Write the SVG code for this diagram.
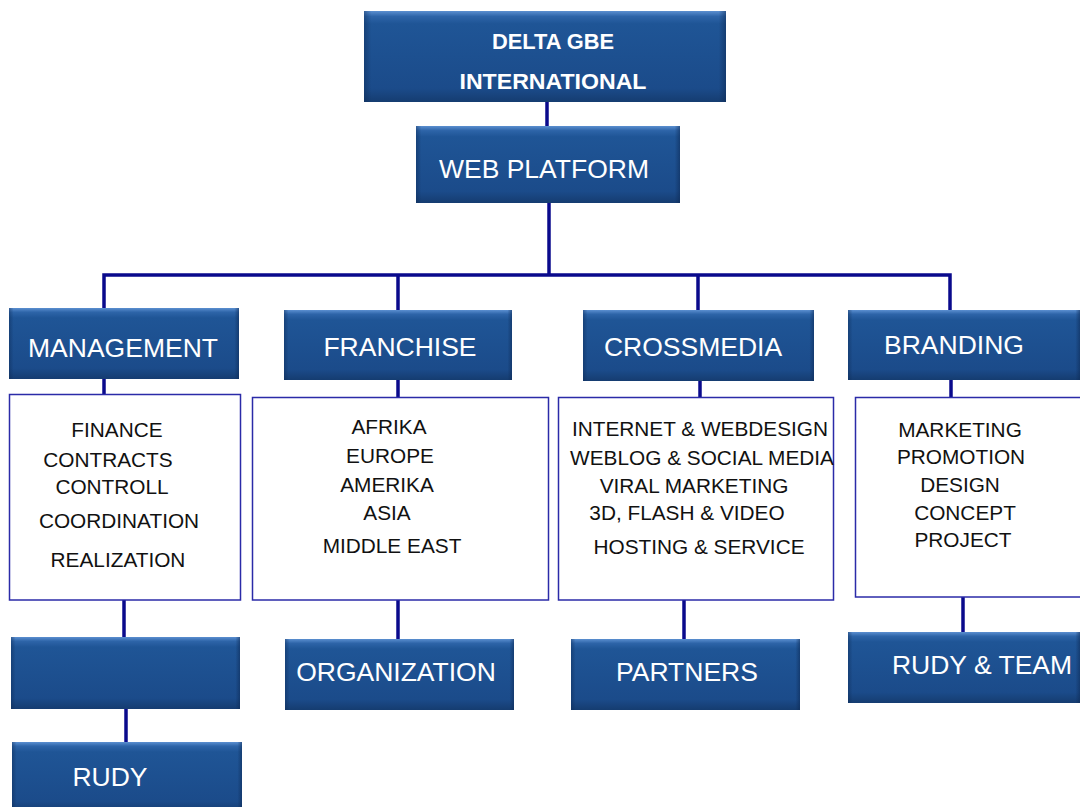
<svg xmlns="http://www.w3.org/2000/svg" width="1080" height="807" viewBox="0 0 1080 807">
<defs>
<linearGradient id="gv" x1="0" y1="0" x2="0" y2="1">
<stop offset="0" stop-color="#5b8fd0"/>
<stop offset="0.06" stop-color="#2d64a8"/>
<stop offset="0.14" stop-color="#1f5596"/>
<stop offset="0.85" stop-color="#1b4b8a"/>
<stop offset="1" stop-color="#153c70"/>
</linearGradient>
<linearGradient id="gh" x1="0" y1="0" x2="1" y2="0">
<stop offset="0" stop-color="#0d2a55" stop-opacity="0.45"/>
<stop offset="0.02" stop-color="#0d2a55" stop-opacity="0"/>
<stop offset="0.98" stop-color="#0d2a55" stop-opacity="0"/>
<stop offset="1" stop-color="#0d2a55" stop-opacity="0.55"/>
</linearGradient>
</defs>
<style>
.bx{fill:url(#gv)}
.sh{fill:url(#gh)}
.wb{fill:#fff;stroke:#2b2ba8;stroke-width:1.5}
.t{font-family:"Liberation Sans",Arial,sans-serif;fill:#fff;font-size:26.5px;text-anchor:middle}
.tb{font-family:"Liberation Sans",Arial,sans-serif;fill:#fff;font-size:22px;font-weight:bold;text-anchor:middle}
.l{font-family:"Liberation Sans",Arial,sans-serif;fill:#111;font-size:20.8px;text-anchor:middle}
.c{stroke:#0a0a8c;stroke-width:3.5;fill:none}
</style>
<rect width="1080" height="807" fill="#fff"/>
<g id="connectors">
<line class="c" x1="547" y1="102" x2="547" y2="127"/>
<line class="c" x1="549" y1="203" x2="549" y2="274"/>
<polyline class="c" points="104,310 104,275 950,275 950,310"/>
<line class="c" x1="398" y1="274" x2="398" y2="310"/>
<line class="c" x1="698" y1="274" x2="698" y2="310"/>
<line class="c" x1="104" y1="379" x2="104" y2="395"/>
<line class="c" x1="398" y1="380" x2="398" y2="398"/>
<line class="c" x1="700" y1="381" x2="700" y2="398"/>
<line class="c" x1="951" y1="380" x2="951" y2="398"/>
<line class="c" x1="124" y1="600" x2="124" y2="637"/>
<line class="c" x1="398" y1="600" x2="398" y2="639"/>
<line class="c" x1="684" y1="600" x2="684" y2="639"/>
<line class="c" x1="963" y1="597" x2="963" y2="632"/>
<line class="c" x1="126" y1="709" x2="126" y2="743"/>
</g>
<g id="delta">
<rect class="bx" x="364" y="11" width="362" height="91"/><rect class="sh" x="364" y="11" width="362" height="91"/>
<text class="tb" x="553" y="49" textLength="122" lengthAdjust="spacingAndGlyphs">DELTA GBE</text>
<text class="tb" x="553" y="89" textLength="187" lengthAdjust="spacingAndGlyphs">INTERNATIONAL</text>
</g>
<g id="webplatform">
<rect class="bx" x="416" y="126" width="264" height="77"/><rect class="sh" x="416" y="126" width="264" height="77"/>
<text class="t" x="544" y="178">WEB PLATFORM</text>
</g>
<g id="management">
<rect class="bx" x="9" y="308" width="230" height="71"/><rect class="sh" x="9" y="308" width="230" height="71"/>
<text class="t" x="123" y="357">MANAGEMENT</text>
</g>
<g id="franchise">
<rect class="bx" x="284" y="310" width="228" height="70"/><rect class="sh" x="284" y="310" width="228" height="70"/>
<text class="t" x="400" y="356">FRANCHISE</text>
</g>
<g id="crossmedia">
<rect class="bx" x="583" y="310" width="231" height="71"/><rect class="sh" x="583" y="310" width="231" height="71"/>
<text class="t" x="693" y="356">CROSSMEDIA</text>
</g>
<g id="branding">
<rect class="bx" x="848" y="310" width="232" height="70"/><rect class="sh" x="848" y="310" width="232" height="70"/>
<text class="t" x="954" y="354">BRANDING</text>
</g>
<g id="management-list">
<rect class="wb" x="9.5" y="394.5" width="231" height="205.5"/>
<text class="l" x="117" y="437">FINANCE</text>
<text class="l" x="108" y="467">CONTRACTS</text>
<text class="l" x="112" y="494">CONTROLL</text>
<text class="l" x="119" y="528">COORDINATION</text>
<text class="l" x="118" y="567">REALIZATION</text>
</g>
<g id="franchise-list">
<rect class="wb" x="252.5" y="397.5" width="296" height="202.5"/>
<text class="l" x="389" y="434">AFRIKA</text>
<text class="l" x="390" y="463">EUROPE</text>
<text class="l" x="387" y="492">AMERIKA</text>
<text class="l" x="387" y="520">ASIA</text>
<text class="l" x="392" y="553">MIDDLE EAST</text>
</g>
<g id="crossmedia-list">
<rect class="wb" x="558.5" y="397.5" width="275" height="202.5"/>
<text class="l" x="700" y="436">INTERNET &amp; WEBDESIGN</text>
<text class="l" x="702" y="465">WEBLOG &amp; SOCIAL MEDIA</text>
<text class="l" x="694" y="493">VIRAL MARKETING</text>
<text class="l" x="687" y="520">3D, FLASH &amp; VIDEO</text>
<text class="l" x="699" y="554">HOSTING &amp; SERVICE</text>
</g>
<g id="branding-list">
<rect class="wb" x="855.5" y="397.5" width="230" height="199.5"/>
<text class="l" x="960" y="437">MARKETING</text>
<text class="l" x="961" y="464">PROMOTION</text>
<text class="l" x="960" y="492">DESIGN</text>
<text class="l" x="965" y="520">CONCEPT</text>
<text class="l" x="963" y="547">PROJECT</text>
</g>
<g id="blank">
<rect class="bx" x="11" y="637" width="229" height="72"/><rect class="sh" x="11" y="637" width="229" height="72"/>
</g>
<g id="organization">
<rect class="bx" x="285" y="639" width="229" height="71"/><rect class="sh" x="285" y="639" width="229" height="71"/>
<text class="t" x="396" y="681">ORGANIZATION</text>
</g>
<g id="partners">
<rect class="bx" x="571" y="639" width="229" height="71"/><rect class="sh" x="571" y="639" width="229" height="71"/>
<text class="t" x="687" y="681">PARTNERS</text>
</g>
<g id="rudyteam">
<rect class="bx" x="848" y="632" width="232" height="71"/><rect class="sh" x="848" y="632" width="232" height="71"/>
<text class="t" x="982" y="674">RUDY &amp; TEAM</text>
</g>
<g id="rudy">
<rect class="bx" x="12" y="742" width="230" height="70"/><rect class="sh" x="12" y="742" width="230" height="70"/>
<text class="t" x="110" y="786">RUDY</text>
</g>
</svg>
